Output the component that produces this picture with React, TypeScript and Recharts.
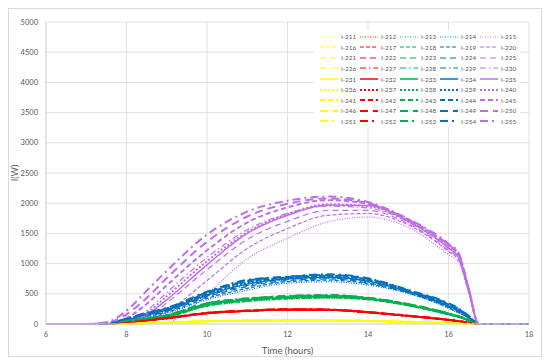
import { LineChart, Line, XAxis, YAxis, CartesianGrid, Legend } from 'recharts';

const hours = [6, 7, 7.5, 8, 8.5, 9, 10, 11, 12, 13, 14, 15, 16, 16.25, 16.5, 16.75, 18];

const seriesNames = [
  'I-211', 'I-212', 'I-213', 'I-214', 'I-215',
  'I-216', 'I-217', 'I-218', 'I-219', 'I-220',
  'I-221', 'I-222', 'I-223', 'I-224', 'I-225',
  'I-226', 'I-227', 'I-228', 'I-229', 'I-230',
  'I-231', 'I-232', 'I-233', 'I-234', 'I-235',
  'I-236', 'I-237', 'I-238', 'I-239', 'I-240',
  'I-241', 'I-242', 'I-243', 'I-244', 'I-245',
  'I-246', 'I-247', 'I-248', 'I-249', 'I-250',
  'I-251', 'I-252', 'I-253', 'I-254', 'I-255',
];

const yellowRuns = [
  [0, 0, 0, 3, 11, 21, 41, 51, 55, 54, 46, 32, 13, 8, 4, 0, 0],
  [0, 0, 0, 3, 11, 22, 42, 52, 56, 55, 47, 32, 13, 9, 4, 0, 0],
  [0, 0, 0, 4, 12, 22, 43, 53, 57, 56, 47, 33, 14, 9, 4, 0, 0],
  [0, 0, 0, 4, 12, 23, 43, 54, 57, 56, 48, 33, 14, 9, 5, 0, 0],
  [0, 0, 0, 4, 13, 24, 44, 55, 58, 57, 49, 34, 15, 10, 5, 0, 0],
  [0, 0, 0, 5, 13, 24, 45, 55, 59, 58, 49, 34, 15, 10, 5, 0, 0],
  [0, 0, 0, 5, 14, 25, 46, 56, 60, 59, 50, 35, 16, 10, 5, 0, 0],
  [0, 0, 0, 5, 14, 26, 47, 57, 61, 60, 51, 36, 16, 11, 5, 0, 0],
  [0, 0, 0, 6, 15, 27, 48, 58, 62, 61, 52, 37, 17, 11, 6, 0, 0],
];

const redRuns = [
  [0, 0, 0, 25, 55, 88, 170, 210, 232, 228, 188, 128, 62, 42, 20, 0, 0],
  [0, 0, 0, 26, 56, 89, 172, 211, 233, 229, 189, 129, 63, 43, 21, 0, 0],
  [0, 0, 0, 27, 57, 91, 174, 213, 235, 231, 190, 130, 64, 44, 21, 0, 0],
  [0, 0, 0, 28, 58, 92, 176, 214, 236, 232, 191, 131, 65, 44, 22, 0, 0],
  [0, 0, 0, 28, 59, 94, 177, 215, 238, 234, 193, 132, 66, 45, 22, 0, 0],
  [0, 0, 0, 29, 60, 95, 179, 217, 240, 235, 194, 133, 67, 46, 23, 0, 0],
  [0, 0, 0, 30, 62, 97, 181, 219, 242, 237, 195, 134, 68, 46, 23, 0, 0],
  [0, 0, 0, 31, 63, 98, 183, 220, 243, 238, 197, 136, 69, 47, 24, 0, 0],
  [0, 0, 0, 32, 65, 100, 185, 222, 245, 240, 198, 137, 70, 48, 24, 0, 0],
];

const greenRuns = [
  [0, 0, 0, 30, 65, 110, 290, 370, 410, 425, 400, 300, 150, 110, 55, 0, 0],
  [0, 0, 0, 33, 69, 115, 297, 377, 417, 432, 404, 304, 153, 112, 57, 0, 0],
  [0, 0, 2, 36, 73, 120, 304, 384, 424, 439, 409, 308, 157, 115, 58, 0, 0],
  [0, 0, 3, 39, 77, 125, 311, 391, 431, 446, 413, 312, 160, 117, 59, 0, 0],
  [0, 0, 4, 42, 80, 130, 317, 397, 437, 452, 417, 315, 163, 120, 60, 0, 0],
  [0, 0, 5, 45, 84, 135, 324, 404, 444, 459, 422, 319, 167, 122, 61, 0, 0],
  [0, 0, 6, 48, 88, 140, 331, 411, 451, 466, 426, 323, 170, 125, 63, 0, 0],
  [0, 0, 7, 51, 91, 145, 338, 418, 458, 473, 431, 327, 174, 127, 64, 0, 0],
  [0, 0, 8, 55, 95, 150, 345, 425, 465, 480, 435, 330, 177, 130, 65, 0, 0],
];

const blueRuns = [
  [0, 0, 0, 45, 110, 180, 400, 560, 675, 700, 645, 505, 260, 180, 95, 0, 0],
  [0, 0, 0, 50, 120, 195, 425, 590, 700, 725, 665, 512, 270, 190, 100, 0, 0],
  [0, 0, 0, 55, 130, 210, 450, 620, 720, 745, 680, 520, 280, 200, 105, 0, 0],
  [0, 0, 0, 60, 140, 220, 465, 640, 735, 760, 695, 528, 290, 210, 110, 0, 0],
  [0, 0, 0, 65, 150, 230, 480, 660, 750, 775, 710, 535, 300, 220, 115, 0, 0],
  [0, 0, 0, 70, 160, 240, 495, 680, 760, 790, 720, 542, 310, 230, 120, 0, 0],
  [0, 0, 5, 78, 170, 250, 510, 700, 770, 800, 735, 550, 322, 240, 125, 0, 0],
  [0, 0, 5, 84, 178, 258, 522, 715, 778, 812, 745, 556, 332, 250, 130, 0, 0],
  [0, 0, 8, 90, 185, 265, 535, 730, 783, 823, 757, 563, 343, 260, 135, 0, 0],
];

const purpleRuns = [
  [0, 0, 0, 0, 0, 20, 500, 1080, 1420, 1690, 1770, 1600, 1150, 1030, 520, 0, 0],
  [0, 0, 0, 0, 40, 200, 720, 1250, 1580, 1800, 1830, 1640, 1200, 1060, 535, 0, 0],
  [0, 0, 0, 10, 100, 350, 900, 1400, 1700, 1880, 1880, 1660, 1220, 1080, 545, 0, 0],
  [0, 0, 0, 40, 220, 520, 1100, 1560, 1830, 1950, 1920, 1690, 1250, 1100, 555, 0, 0],
  [0, 0, 0, 20, 150, 400, 980, 1500, 1800, 1970, 1960, 1700, 1260, 1110, 560, 0, 0],
  [0, 0, 0, 30, 180, 460, 1040, 1520, 1820, 1980, 1950, 1700, 1270, 1120, 565, 0, 0],
  [0, 0, 10, 100, 330, 640, 1220, 1680, 1930, 2050, 1990, 1720, 1300, 1150, 580, 0, 0],
  [0, 0, 20, 160, 430, 760, 1360, 1780, 1990, 2080, 2000, 1730, 1310, 1160, 585, 0, 0],
  [0, 0, 30, 220, 550, 880, 1480, 1860, 2040, 2110, 2020, 1740, 1330, 1180, 595, 0, 0],
];

const xTicks = [6, 8, 10, 12, 14, 16, 18];
const yTicks = [0, 500, 1000, 1500, 2000, 2500, 3000, 3500, 4000, 4500, 5000];

const colors = ['#FFFF00', '#FF0000', '#00B050', '#0070C0', '#BF6EEA'];
const groups = [yellowRuns, redRuns, greenRuns, blueRuns, purpleRuns];

// one style per legend row (dot, dash, long dash, dash-dot, solid, then heavier versions)
const lineStyles = [
  { dash: '1 1.5', width: 1.2 },
  { dash: '4 2', width: 1.2 },
  { dash: '6 4', width: 1.2 },
  { dash: '6 3 1.5 3', width: 1.2 },
  { dash: undefined, width: 1.5 },
  { dash: '2 2', width: 2 },
  { dash: '5 3', width: 2 },
  { dash: '8 5', width: 2 },
  { dash: '8 4 2 4', width: 2 },
];

const series = seriesNames.map((name, k) => {
  const row = Math.floor(k / 5);
  const col = k % 5;
  return { name, row, col, color: colors[col], values: groups[col][row] };
});

const data = hours.map((h, i) => {
  const point: { [key: string]: number } = { hour: h };
  series.forEach((s) => {
    point[s.name] = s.values[i];
  });
  return point;
});

const font = 'Lato, "Open Sans", sans-serif';

function SeriesLegend() {
  return (
    <div
      style={{
        display: 'grid',
        gridTemplateColumns: 'repeat(5, 40px)',
        gridAutoRows: '10.6px',
        padding: '1.4px 0 0 6px',
        background: '#fff',
        fontFamily: font,
        fontSize: 6.3,
        color: '#595959',
      }}
    >
      {series.map((s) => {
        const st = lineStyles[s.row];
        return (
          <div key={s.name} style={{ display: 'flex', alignItems: 'center', whiteSpace: 'nowrap' }}>
            <svg width={18} height={6} style={{ marginRight: 3 }}>
              <line x1={0} y1={3} x2={18} y2={3} stroke={s.color} strokeWidth={st.width} strokeDasharray={st.dash} />
            </svg>
            <span>{s.name}</span>
          </div>
        );
      })}
    </div>
  );
}

export default function App() {
  return (
    <div
      style={{
        width: 534,
        height: 349,
        boxSizing: 'border-box',
        border: '1px solid #d9d9d9',
        background: '#fff',
      }}
    >
      <LineChart width={532} height={347} data={data} margin={{ top: 13, right: 12, left: 7, bottom: 0 }}>
        <CartesianGrid stroke="#d9d9d9" strokeWidth={0.8} />
        <XAxis
          dataKey="hour"
          type="number"
          domain={[6, 18]}
          ticks={xTicks}
          tickLine={false}
          axisLine={{ stroke: '#d9d9d9' }}
          height={32}
          tick={{ fontSize: 7.5, fill: '#595959', fontFamily: font }}
          label={{
            value: 'Time (hours)',
            position: 'insideBottom',
            offset: 2,
            style: { fontSize: 9.5, fill: '#595959', fontFamily: font },
          }}
        />
        <YAxis
          type="number"
          domain={[0, 5000]}
          ticks={yTicks}
          width={30}
          tickLine={false}
          axisLine={{ stroke: '#d9d9d9' }}
          tick={{ fontSize: 7.5, fill: '#595959', fontFamily: font }}
          label={{
            content: (props: any) => {
              const vb = props.viewBox;
              const cx = vb.x - 2;
              const cy = vb.y + vb.height / 2;
              return (
                <text
                  x={cx}
                  y={cy}
                  transform={`rotate(-90, ${cx}, ${cy})`}
                  textAnchor="middle"
                  dominantBaseline="central"
                  style={{ fontSize: 9, fill: '#595959', fontFamily: font }}
                >
                  I(W)
                </text>
              );
            },
          }}
        />
        <Legend
          layout="horizontal"
          verticalAlign="middle"
          align="center"
          content={() => <SeriesLegend />}
          wrapperStyle={{ position: 'absolute', left: 305, top: 21, width: 206, height: 98 }}
        />
        {series.map((s) => (
          <Line
            key={s.name}
            dataKey={s.name}
            type="monotone"
            stroke={s.color}
            strokeWidth={lineStyles[s.row].width}
            strokeDasharray={lineStyles[s.row].dash}
            dot={false}
            activeDot={false}
            isAnimationActive={false}
          />
        ))}
      </LineChart>
    </div>
  );
}
